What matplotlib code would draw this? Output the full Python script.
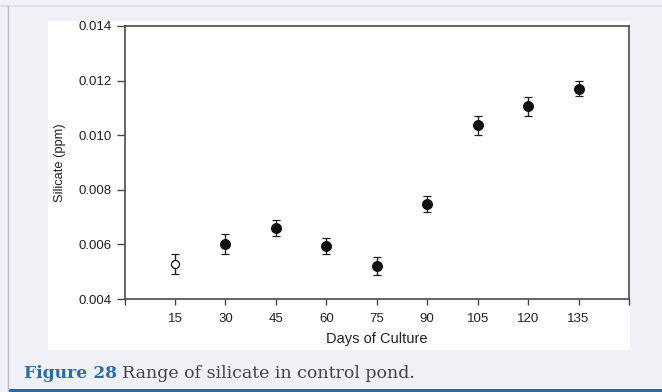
import matplotlib.pyplot as plt
from matplotlib.patches import Rectangle
from matplotlib.lines import Line2D

days = [15, 30, 45, 60, 75, 90, 105, 120, 135]
silicate = [0.00527, 0.00602, 0.00660, 0.00594, 0.00521, 0.00749, 0.01037, 0.01106, 0.01170]
err = [0.00037, 0.00036, 0.00030, 0.00030, 0.00033, 0.00030, 0.00035, 0.00035, 0.00028]
open_marker = [True, False, False, False, False, False, False, False, False]

x_ticks = [0, 15, 30, 45, 60, 75, 90, 105, 120, 135, 150]
x_labels = ['', '15', '30', '45', '60', '75', '90', '105', '120', '135', '']
y_ticks = [0.004, 0.006, 0.008, 0.010, 0.012, 0.014]

bg = '#eff1f7'
fig = plt.figure(figsize=(6.62, 3.92), dpi=100, facecolor=bg)
W, H = 662, 392

# page frame: top rule, left rule, white image area, blue bottom rule
fig.add_artist(Line2D([0, 1], [1 - 6 / H, 1 - 6 / H], color='#d9dce4', lw=1.2))
fig.add_artist(Line2D([8 / W, 8 / W], [0, 1 - 6 / H], color='#b9bcc4', lw=1.0))
fig.add_artist(Rectangle((48 / W, 1 - 350 / H), (630 - 48) / W, (350 - 21) / H,
                         facecolor='white', edgecolor='none', zorder=0))
fig.add_artist(Rectangle((8 / W, 0), 1, 3 / H, facecolor='#1f6db4',
                         edgecolor='none'))

ax = fig.add_axes([124.6 / W, 1 - 299 / H, (629 - 124.6) / W, (299 - 26) / H])
ax.set_facecolor('white')

for d, s, e, o in zip(days, silicate, err, open_marker):
    ax.errorbar(d, s, yerr=e, fmt='o', color='#111111', ecolor='#222222',
                elinewidth=1.0, capsize=3.2, capthick=1.0,
                markersize=5.8 if o else 7.0,
                markerfacecolor='white' if o else '#111111',
                markeredgecolor='#111111', markeredgewidth=0.9)

ax.set_xlim(0, 150)
ax.set_ylim(0.004, 0.014)
ax.set_xticks(x_ticks)
ax.set_xticklabels(x_labels)
ax.set_yticks(y_ticks)
ax.set_yticklabels([f'{v:.3f}' for v in y_ticks])

for sp in ax.spines.values():
    sp.set_color('#4a4a4a')
    sp.set_linewidth(1.2)

ax.tick_params(axis='both', direction='out', colors='#444444', labelcolor='#222222',
               labelsize=9.5, width=1.0)
ax.tick_params(axis='x', length=4, pad=6)
ax.tick_params(axis='y', length=6, pad=3)
for lab in ax.get_xticklabels() + ax.get_yticklabels():
    lab.set_family('Liberation Sans')

ax.set_xlabel('Days of Culture', fontsize=10.5, family='Liberation Sans',
              color='#222222', labelpad=5)
ax.set_ylabel('Silicate (ppm)', fontsize=9.3, family='Liberation Sans',
              color='#222222', labelpad=9.5)

# caption
cap_y = 1 - 378 / H
t = fig.text(24 / W, cap_y, 'Figure 28', fontsize=12.3, fontweight='bold',
             family='DejaVu Serif', color='#2b6cb0', va='baseline')
fig.canvas.draw()
bb = t.get_window_extent()
fig.text(bb.x1 / W + 5 / W, cap_y, 'Range of silicate in control pond.',
         fontsize=12.5, family='DejaVu Serif', color='#444444', va='baseline')

fig.savefig('out.png', dpi=100, facecolor=bg)
